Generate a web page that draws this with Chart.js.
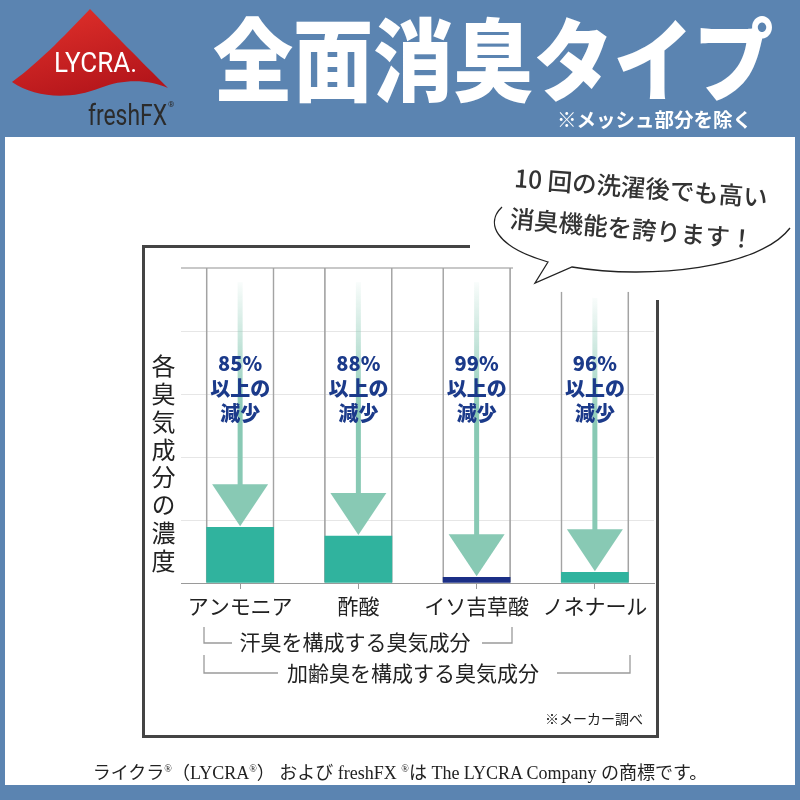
<!DOCTYPE html>
<html>
<head>
<meta charset="utf-8">
<script src="https://cdn.jsdelivr.net/npm/chart.js@4/dist/chart.umd.min.js"></script>
<style>
  html, body { margin: 0; padding: 0; }
  body { width: 800px; height: 800px; position: relative; overflow: hidden;
         background: #5b84b1; font-family: "Noto Sans CJK JP", "Noto Sans", sans-serif; color: #222; }
  .abs { position: absolute; }
  #panel { left: 5px; top: 137px; width: 790px; height: 648px; background: #fff; }
  #frame { left: 142px; top: 245px; width: 514px; height: 490px; border-left: 3px solid #444; border-bottom: 3px solid #444; }
  #frameTop { left: 142px; top: 245px; width: 328px; height: 3px; background: #444; }
  #frameRight { left: 656px; top: 300px; width: 3px; height: 438px; background: #444; }
  #wrap { left: 0; top: 0; width: 800px; height: 800px; }
  #cover { left: 513px; top: 260px; width: 142px; height: 31px; background: #fff; }
  #title { left: 213px; top: 10px; font-size: 90px; font-weight: 900; color: #fff; line-height: 1;
           white-space: nowrap; transform: scaleX(0.89); transform-origin: left top; }
  #sub { right: 48px; top: 104px; font-size: 19.5px; font-weight: 700; color: #fff; white-space: nowrap; }
  #ytitle { left: 151px; top: 354px; writing-mode: vertical-rl; font-size: 24px; line-height: 24px;
            letter-spacing: 3.8px; color: #222; }
  #note { left: 545px; top: 708px; font-size: 14px; color: #222; }
  #foot { left: 0; width: 800px; top: 758px; text-align: center; font-size: 18px;
          font-family: "Liberation Serif", "Noto Sans CJK JP", serif; color: #222; white-space: nowrap; }
</style>
</head>
<body>
<div id="panel" class="abs"></div>
<div id="frame" class="abs"></div>
<div id="frameTop" class="abs"></div>
<div id="frameRight" class="abs"></div>
<div id="wrap" class="abs"><canvas id="chart" width="800" height="800"></canvas></div>
<div id="cover" class="abs"></div>

<svg class="abs" style="left:0;top:0" width="200" height="135">
  <defs>
    <linearGradient id="red" x1="0" y1="0" x2="0.5" y2="1">
      <stop offset="0" stop-color="#e3322c"/>
      <stop offset="1" stop-color="#b5161b"/>
    </linearGradient>
  </defs>
  <path d="M90 9 C72 28 40 62 12 82 C35 98 70 100 100 88 C125 78 150 80 168 88 C142 62 110 30 90 9 Z" fill="url(#red)"/>
  <text x="54" y="72" fill="#fff" font-family="Liberation Sans Narrow, Roboto, sans-serif" font-size="27"
        textLength="83" lengthAdjust="spacingAndGlyphs">LYCRA.</text>
  <text x="88" y="125" fill="#2b2b2b" font-family="Roboto, Liberation Sans, sans-serif" font-size="30"
        textLength="79" lengthAdjust="spacingAndGlyphs">freshFX</text>
  <text x="168" y="107" fill="#2b2b2b" font-family="Roboto, sans-serif" font-size="8">®</text>
</svg>

<div id="title" class="abs">全面消臭タイプ</div>
<div id="sub" class="abs">※メッシュ部分を除く</div>
<div id="ytitle" class="abs">各臭気成分の濃度</div>

<svg class="abs" style="left:0;top:0" width="800" height="800">
  <path d="M502 207 C486 222 493 246 548 262 L535 283 L572 267 C650 280 760 268 790 228"
        fill="none" stroke="#222" stroke-width="1.3"/>
  <g font-family="Noto Sans CJK JP, sans-serif" font-size="24.5" font-weight="500" fill="#333" text-anchor="middle">
    <text x="641" y="197" transform="rotate(4.5 641 188)">10 回の洗濯後でも高い</text>
    <text x="632" y="238" transform="rotate(5 632 229)">消臭機能を誇ります！</text>
  </g>
  <g fill="none" stroke="#9a9a9a" stroke-width="1.3">
    <polyline points="204,627 204,643 232,643"/>
    <polyline points="482,643 512,643 512,627"/>
    <polyline points="204,655 204,673 278,673"/>
    <polyline points="557,673 630,673 630,655"/>
  </g>
  <g font-family="Noto Sans CJK JP, sans-serif" font-size="21" fill="#222" text-anchor="middle">
    <text x="355" y="650">汗臭を構成する臭気成分</text>
    <text x="413" y="681">加齢臭を構成する臭気成分</text>
  </g>
</svg>

<div id="note" class="abs">※メーカー調べ</div>
<div id="foot" class="abs">ライクラ<sup style="font-size:10px">®</sup>（LYCRA<sup style="font-size:10px">®</sup>） および freshFX <sup style="font-size:10px">®</sup>は The LYCRA Company の商標です。</div>

<script>
// odor components and remaining concentration after washing
const categories = ['アンモニア', '酢酸', 'イソ吉草酸', 'ノネナール'];
const remaining = [17.7, 14.9, 1.8, 3.4];
const reductionLabels = ['85%', '88%', '99%', '96%'];
const arrowTop = [95.5, 95.5, 95.5, 90.5];
const columnTop = [100, 100, 100, 92.5];
const barColors = ['#30b39e', '#30b39e', '#1b2f86', '#30b39e'];
const yTicks = [0, 20, 40, 60, 80, 100];

const ARROW = '#88c9b4';

const arrowPlugin = {
  id: 'arrows',
  afterDatasetsDraw(chart) {
    const { ctx, chartArea, scales: { x, y } } = chart;
    ctx.save();
    remaining.forEach((v, i) => {
      const cx = x.getPixelForValue(i);
      const tip = y.getPixelForValue(v) - 1;
      const top = y.getPixelForValue(arrowTop[i]);
      const headH = 42, headW = 56;
      const g = ctx.createLinearGradient(0, top, 0, top + 130);
      g.addColorStop(0, 'rgba(136,201,180,0.05)');
      g.addColorStop(1, ARROW);
      ctx.fillStyle = g;
      ctx.fillRect(cx - 2.5, top, 5, tip - headH - top + 1);
      ctx.fillStyle = ARROW;
      ctx.beginPath();
      ctx.moveTo(cx - headW / 2, tip - headH);
      ctx.lineTo(cx + headW / 2, tip - headH);
      ctx.lineTo(cx, tip);
      ctx.closePath();
      ctx.fill();

      ctx.fillStyle = '#1b3a8a';
      ctx.font = '900 20px "Noto Sans CJK JP", sans-serif';
      ctx.textAlign = 'center';
      ctx.textBaseline = 'middle';
      const t = chartArea.top;
      ctx.fillText(reductionLabels[i], cx, t + 95);
      ctx.fillText('以上の', cx, t + 120);
      ctx.fillText('減少', cx, t + 145);
    });
    ctx.restore();
  }
};

new Chart(document.getElementById('chart'), {
  type: 'bar',
  data: {
    labels: categories,
    datasets: [
      {
        data: remaining,
        backgroundColor: barColors,
        barThickness: 67,
        grouped: false,
        order: 1,
      },
      {
        data: columnTop.map((t) => [0, t]),
        backgroundColor: 'rgba(0,0,0,0)',
        borderColor: '#a3a3a3',
        borderWidth: { left: 1, right: 1, top: 0, bottom: 0 },
        borderSkipped: false,
        barThickness: 68,
        grouped: false,
        order: 2,
      },
    ],
  },
  options: {
    responsive: false,
    animation: false,
    layout: { padding: { left: 181, right: 146, top: 268, bottom: 177 } },
    plugins: { legend: { display: false }, tooltip: { enabled: false } },
    scales: {
      x: {
        afterFit: (s) => { s.height = 40; },
        grid: { offset: false, drawOnChartArea: false, drawTicks: true, tickLength: 6, color: '#9a9a9a' },
        border: { display: true, color: '#9a9a9a' },
        ticks: { color: '#222', padding: 4, font: { family: '"Noto Sans CJK JP", sans-serif', size: 21 } },
      },
      y: {
        min: 0,
        max: 100,
        afterFit: (s) => { s.width = 0; },
        afterBuildTicks: (s) => { s.ticks = yTicks.map((v) => ({ value: v })); },
        ticks: { display: false },
        border: { display: false },
        grid: {
          drawTicks: false,
          color: (c) => (c.tick && c.tick.value === 100 ? '#c8c8c8' : c.tick && c.tick.value === 0 ? '#9a9a9a' : '#e6e6e6'),
          lineWidth: (c) => (c.tick && c.tick.value === 100 ? 2 : 1),
        },
      },
    },
  },
  plugins: [arrowPlugin],
});
</script>
</body>
</html>
